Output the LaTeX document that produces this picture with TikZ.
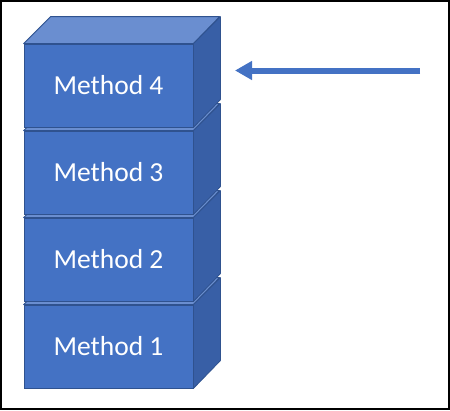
\documentclass[tikz,border=0pt]{standalone}
\usepackage{fontspec}
\setmainfont{Carlito}
\usetikzlibrary{arrows.meta}
\definecolor{frontblue}{HTML}{4472C4}
\definecolor{topblue}{HTML}{6A8ED0}
\definecolor{sideblue}{HTML}{385FA6}
\definecolor{edgeblue}{HTML}{2F528F}
\tikzset{
  frontface/.style={draw=edgeblue, line width=0.8pt, fill=frontblue, text=white,
    minimum width=169pt, minimum height=83pt, inner sep=0pt,
    font=\fontsize{27.5}{30}\selectfont},
  topface/.style={draw=edgeblue, line width=0.8pt, fill=topblue, line join=round},
  sideface/.style={draw=edgeblue, line width=0.8pt, fill=sideblue, line join=round},
  pointer/.style={draw=frontblue, line width=6pt, -{Triangle[length=17pt,width=18pt]}}
}
\newcommand{\methodbox}[3]{%
  \node[frontface] (#1) at (108.5,#2) {#3};
  \draw[topface] (#1.north west) -- ++(27,-27) -- ++(169,0) -- (#1.north east) -- cycle;
  \draw[sideface] (#1.north east) -- ++(27,-27) -- ++(0,83) -- (#1.south east) -- cycle;
}
\begin{document}
\begin{tikzpicture}[x=1pt,y=-1pt]
\useasboundingbox (0,0) rectangle (450,410);
\fill[white] (0,0) rectangle (450,410);
\draw[line width=1.6pt] (1,1) rectangle (449,409);
\methodbox{m1}{346.5}{Method 1}
\methodbox{m2}{259.5}{Method 2}
\methodbox{m3}{172.5}{Method 3}
\methodbox{m4}{85.5}{Method 4}
\coordinate (tail) at (420,70.5);
\coordinate (head) at (235,70.5);
\draw[pointer] (tail) -- (head);
\end{tikzpicture}
\end{document}
